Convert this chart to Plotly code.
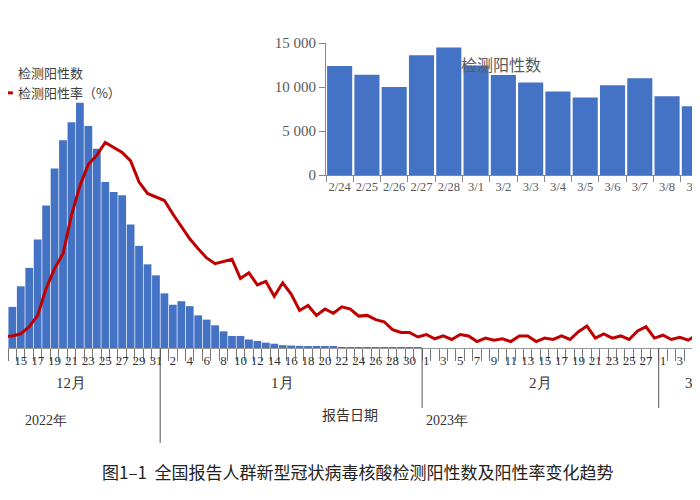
import pandas as pd
import plotly.graph_objects as go

# ---------------- data ----------------
bar_dates = pd.date_range("2022-12-09", "2023-01-31").strftime("%Y-%m-%d").tolist()
# daily positive count (10k persons)
bar_vals = [30, 45, 60, 75, 95,
            116, 174, 226, 306, 402, 506, 586, 637, 692, 626, 562, 468, 440, 431, 348, 288, 236, 205,
            154, 122, 132, 118, 92, 80, 64, 47, 34, 34, 24, 20, 15, 12, 8, 7, 6, 5, 4, 3, 3, 2, 2,
            1.5, 1.2, 1.0, 0.8, 0.6, 0.5, 0.4, 0.3]

line_dates = pd.date_range("2022-12-09", "2023-03-06").strftime("%Y-%m-%d").tolist()
# positive rate (%)
line_vals = [1.2, 1.3, 1.4, 1.5, 1.6,
             1.7, 2.0, 3.0, 4.6, 8.4, 11.2, 13.3, 18.7, 22.9, 25.9, 27.2, 29.0, 28.3, 27.6, 26.4, 23.4, 21.8, 21.3,
             20.8, 18.9, 17.2, 15.4, 14.0, 12.7, 11.9, 12.2, 12.5, 9.8, 10.6, 8.9, 9.4, 7.3, 9.2, 7.6, 5.3, 6.0,
             4.6, 5.5, 4.9, 5.8, 5.5, 4.5, 4.6, 4.0, 3.7, 2.6, 2.2, 2.2, 1.55,
             1.9, 1.3, 1.7, 1.2, 1.9, 1.7, 0.9, 1.4, 1.1, 1.3, 0.9, 1.7, 1.7, 0.9, 1.4, 1.2, 1.7, 1.2, 2.3, 3.1,
             1.4, 2.0, 1.4, 1.7, 1.2, 2.4, 3.0, 1.4,
             1.8, 1.2, 1.5, 1.1, 1.9, 2.3]

inset_cats = ["2/24", "2/25", "2/26", "2/27", "2/28", "3/1", "3/2", "3/3", "3/4", "3/5", "3/6", "3/7", "3/8", "3/9"]
inset_vals = [12400, 11400, 10000, 13600, 14500, 12450, 11350, 10500, 9500, 8800, 10200, 11000, 8950, 7800]
inset_ticks = [0, 5000, 10000, 15000]
inset_ticktext = ["0", "5 000", "10 000", "15 000"]

day_tick_dates = pd.date_range("2022-12-13", "2023-03-05", freq="2D")
day_tick_text = [str(d.day) for d in day_tick_dates]
boundary_ticks = (pd.date_range("2022-12-12", "2023-03-06") + pd.Timedelta(hours=12)).strftime("%Y-%m-%d %H:%M").tolist()

months = ["12月", "1月", "2月", "3月"]
month_pos = ["2022-12-21", "2023-01-15", "2023-02-14 12:00", "2023-03-05"]

BLUE = "#4472C4"
RED = "#C00000"
GREY = "#595959"
SERIF = "Liberation Serif"
SANS = "Noto Sans CJK SC"

def py(y):
    return (340 - y) / 340

fig = go.Figure()
fig.add_bar(x=bar_dates, y=bar_vals, name="检测阳性数", marker_color=BLUE,
            marker_line_width=0, xaxis="x", yaxis="y")
fig.add_scatter(x=line_dates, y=line_vals, name="检测阳性率（%）", mode="lines",
                line=dict(color=RED, width=3), xaxis="x", yaxis="y2")
fig.add_bar(x=inset_cats, y=inset_vals, marker_color=BLUE, marker_line_width=0,
            showlegend=False, xaxis="x3", yaxis="y3")

annotations = []
for m, p in zip(months, month_pos):
    annotations.append(dict(x=p, y=py(385), xref="x", yref="paper", text=m, showarrow=False,
                            font=dict(family=SERIF, size=15, color="#333")))
for txt, xx, yy in [("2022年", "2022-12-18", 422), ("2023年", "2023-02-03 12:00", 422),
                    ("报告日期", "2023-01-23", 418)]:
    annotations.append(dict(x=xx, y=py(yy), xref="x", yref="paper", text=txt, showarrow=False,
                            font=dict(family=SERIF if "年" in txt else SANS, size=14, color="#333")))
annotations.append(dict(x=0.5, y=py(478), xref="paper", yref="paper", showarrow=False,
                        text="图1–1  全国报告人群新型冠状病毒核酸检测阳性数及阳性率变化趋势",
                        font=dict(family=SANS, size=17, color="#222")))
annotations.append(dict(x=535 / 700, y=py(42), xref="paper", yref="paper", showarrow=False,
                        text="检测阳性数", font=dict(family=SANS, size=16, color=GREY)))

shapes = []
for xx, yend in [("2022-12-31 12:00", 435), ("2023-01-31 12:00", 400), ("2023-02-28 12:00", 400)]:
    shapes.append(dict(type="line", x0=xx, x1=xx, xref="x", yref="paper", y0=0, y1=py(yend),
                       line=dict(color="#555", width=1)))

fig.update_layout(
    width=700, height=500, margin=dict(l=0, r=0, t=0, b=160, autoexpand=False),
    paper_bgcolor="white", plot_bgcolor="white",
    bargap=0.08,
    barmode="overlay",
    xaxis=dict(type="date", range=["2022-12-13 11:45", "2023-03-06 08:00"],
               tickmode="array", tickvals=day_tick_dates.strftime("%Y-%m-%d").tolist(), ticktext=day_tick_text,
               ticks="outside", ticklen=0, tickangle=0,
               minor=dict(tickmode="array", tickvals=boundary_ticks, ticks="outside", ticklen=12,
                          tickcolor="#777", tickwidth=1),
               showline=True, linecolor="#999", showgrid=False, zeroline=False,
               tickfont=dict(family=SERIF, size=13, color="#333"), domain=[0, 1], automargin=False),
    yaxis=dict(range=[0, 959], visible=False, domain=[0, 1]),
    yaxis2=dict(range=[0, 47.96], overlaying="y", visible=False),
    xaxis3=dict(type="category", domain=[318 / 700, 1], anchor="y3", range=[-0.5, 13.5],
                tickson="boundaries", ticks="outside", ticklen=6, tickcolor="#888", tickangle=0,
                showline=True, linecolor="#888", showgrid=False, automargin=False,
                tickfont=dict(family=SERIF, size=12.5, color=GREY)),
    yaxis3=dict(domain=[py(167), py(35)], anchor="x3", range=[0, 15000],
                tickmode="array", tickvals=inset_ticks, ticktext=inset_ticktext,
                ticks="outside", ticklen=6, tickcolor="#888", automargin=False,
                showline=True, linecolor="#888", showgrid=False, zeroline=False,
                tickfont=dict(family=SERIF, size=15, color=GREY)),
    legend=dict(x=-0.043, y=py(50), xanchor="left", yanchor="top", bgcolor="rgba(0,0,0,0)",
                font=dict(family=SANS, size=13, color="#404040"), tracegroupgap=0),
    annotations=annotations, shapes=shapes,
)

fig.write_html("out.html")
